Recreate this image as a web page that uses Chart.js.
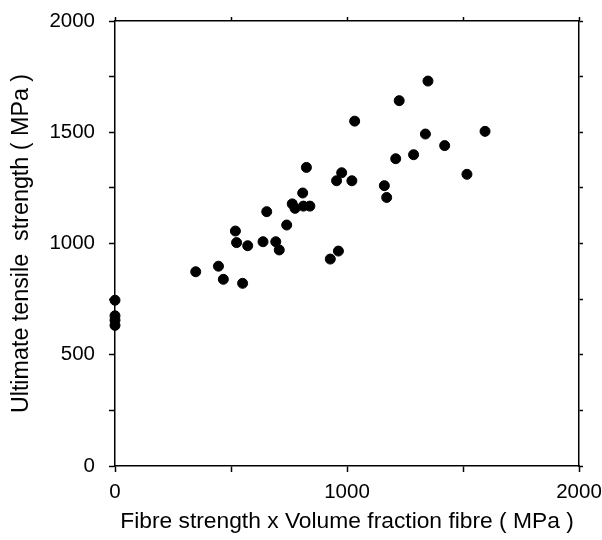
<!DOCTYPE html>
<html>
<head>
<meta charset="utf-8">
<script src="https://cdn.jsdelivr.net/npm/chart.js@4/dist/chart.umd.min.js"></script>
<style>
  html, body { margin: 0; padding: 0; background: #fff; }
</style>
</head>
<body>
<canvas id="grafica" width="602" height="540"></canvas>
<script>
// Fibre strength x volume fraction fibre (MPa)
const resistenciaFibra = [
    0, 0, 0, 0,
    348, 446, 467, 550, 519, 524, 572, 638, 654, 693, 708, 740,
    764, 776, 809, 812, 840, 825, 928, 963, 955, 977, 1021, 1033,
    1161, 1171, 1210, 1225, 1287, 1338, 1349, 1421, 1517, 1595
];
// Ultimate tensile strength (MPa)
const resistenciaTraccion = [
    745, 675, 655, 632,
    873, 898, 839, 821, 1056, 1004, 990, 1008, 1143, 1008, 971, 1083,
    1178, 1158, 1227, 1168, 1168, 1342, 930, 966, 1282, 1318, 1282, 1550,
    1260, 1207, 1381, 1642, 1399, 1492, 1730, 1440, 1311, 1504
];
const ticksX = [0, 1000, 2000];
const ticksY = [0, 500, 1000, 1500, 2000];

const fuente = "'Liberation Sans', Arial, Helvetica, sans-serif";

const puntos = resistenciaFibra.map((x, i) => ({ x: x, y: resistenciaTraccion[i] }));

const rejilla = {
    drawOnChartArea: false,
    drawTicks: true,
    tickLength: 6,
    tickWidth: 1.5,
    tickColor: '#000'
};
const borde = { display: true, color: '#000', width: 1.5 };

// tamaños fijos para que el area del grafico quede donde en la figura
const fijarAlto = h => s => { s.height = h; s.paddingLeft = 0; s.paddingRight = 0; };
const fijarAncho = w => s => { s.width = w; s.paddingTop = 0; s.paddingBottom = 0; };

new Chart(document.querySelector("#grafica"), {
    type: 'scatter',
    data: {
        datasets: [{
            data: puntos,
            backgroundColor: '#000',
            borderColor: '#000',
            pointRadius: 5,
            pointHoverRadius: 5,
            clip: false
        }]
    },
    options: {
        responsive: false,
        animation: false,
        layout: { padding: 0, autoPadding: false },
        plugins: {
            legend: { display: false },
            tooltip: { enabled: false }
        },
        scales: {
            x: {
                type: 'linear',
                position: 'bottom',
                min: 0,
                max: 2000,
                grid: rejilla,
                border: borde,
                ticks: {
                    stepSize: 500,
                    padding: 8,
                    color: '#000',
                    font: { family: fuente, size: 20.5 },
                    maxRotation: 0,
                    callback: v => ticksX.includes(v) ? String(v) : ''
                },
                title: {
                    display: true,
                    text: 'Fibre strength x Volume fraction fibre ( MPa )',
                    color: '#000',
                    font: { family: fuente, size: 22.8 },
                    padding: { top: 0, bottom: 5 }
                },
                afterFit: fijarAlto(74)
            },
            xTop: {
                type: 'linear',
                position: 'top',
                min: 0,
                max: 2000,
                grid: Object.assign({}, rejilla, { tickLength: 4 }),
                border: borde,
                ticks: { stepSize: 500, display: false },
                afterFit: fijarAlto(21)
            },
            y: {
                type: 'linear',
                position: 'left',
                min: 0,
                max: 2000,
                grid: rejilla,
                border: borde,
                ticks: {
                    stepSize: 250,
                    padding: 14,
                    color: '#000',
                    font: { family: fuente, size: 20.5 },
                    callback: v => ticksY.includes(v) ? String(v) : ''
                },
                title: {
                    display: true,
                    text: 'Ultimate tensile  strength ( MPa )',
                    color: '#000',
                    font: { family: fuente, size: 23.3 },
                    padding: { top: 8, bottom: 0 }
                },
                afterFit: fijarAncho(115)
            },
            yRight: {
                type: 'linear',
                position: 'right',
                min: 0,
                max: 2000,
                grid: Object.assign({}, rejilla, { tickLength: 4 }),
                border: borde,
                ticks: { stepSize: 250, display: false },
                afterFit: fijarAncho(23)
            }
        }
    }
});
</script>
</body>
</html>
